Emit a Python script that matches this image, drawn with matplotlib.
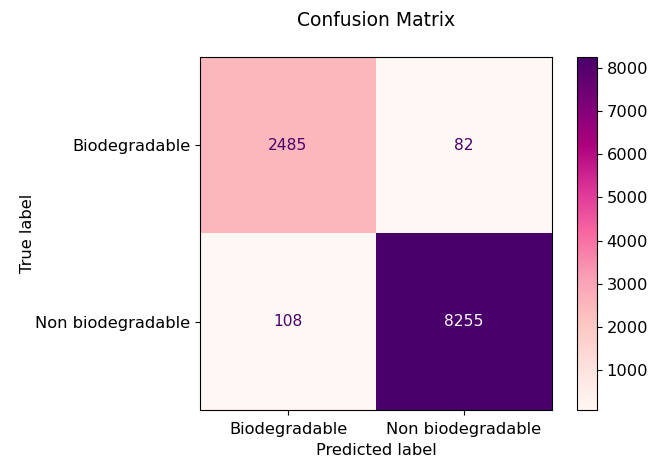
import matplotlib
matplotlib.use("Agg")
import matplotlib.pyplot as plt
import numpy as np

labels = ["Biodegradable", "Non biodegradable"]
counts = np.array([[2485, 82],
                   [108, 8255]])

fig = plt.figure(figsize=(6.58, 4.71), dpi=100)
ax = fig.add_axes([0.304, 0.130, 0.535, 0.749])
cax = fig.add_axes([0.877, 0.130, 0.030, 0.749])

cmap = plt.get_cmap("RdPu")
im = ax.imshow(counts, cmap=cmap, interpolation="nearest", aspect="auto")

thresh = (counts.max() + counts.min()) / 2.0
for i in range(counts.shape[0]):
    for j in range(counts.shape[1]):
        color = cmap(1.0) if counts[i, j] < thresh else cmap(0.0)
        ax.text(j, i, str(counts[i, j]), ha="center", va="center",
                color=color, fontsize=11.2)

fs = 11.7
ax.set_xticks(range(len(labels)))
ax.set_xticklabels(labels, fontsize=fs)
ax.set_yticks(range(len(labels)))
ax.set_yticklabels(labels, fontsize=fs)
ax.tick_params(axis="x", pad=5.5)
ax.set_xlabel("Predicted label", fontsize=fs, labelpad=4)
ax.set_ylabel("True label", fontsize=fs, labelpad=0)

fig.text(0.5715, 0.957, "Confusion Matrix", ha="center", va="center", fontsize=13.5)

cb = fig.colorbar(im, cax=cax)
cb.ax.tick_params(labelsize=fs)

plt.savefig("out.png", dpi=100)
